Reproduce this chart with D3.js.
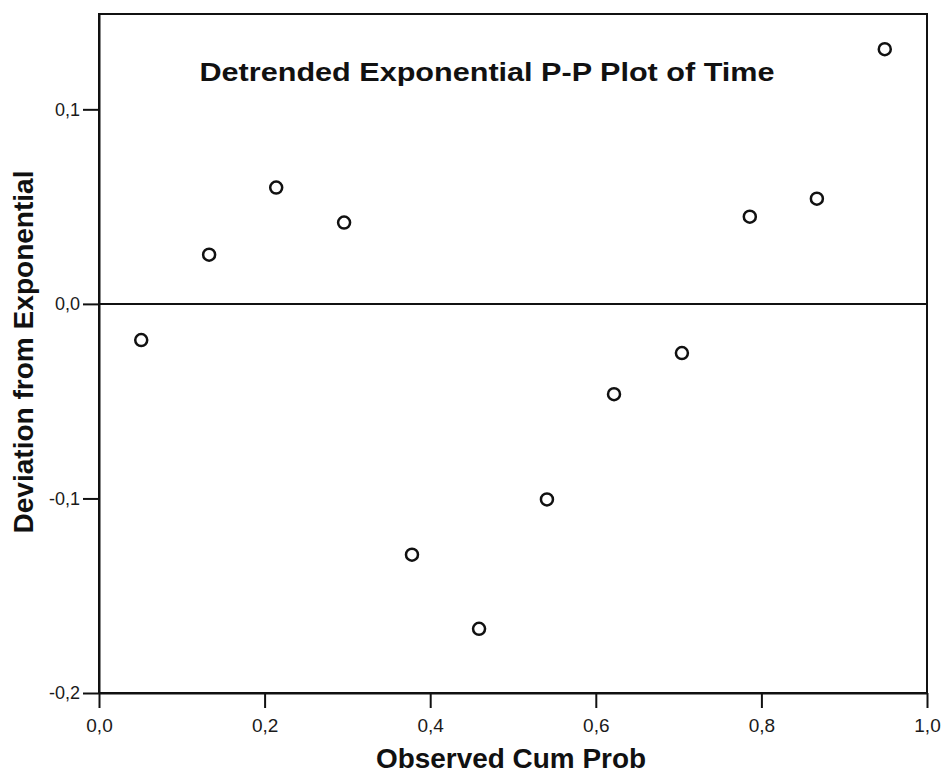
<!DOCTYPE html>
<html>
<head>
<meta charset="utf-8">
<script src="https://cdn.jsdelivr.net/npm/d3@7"></script>
<style>
  body { margin: 0; background: #fff; }
  svg { display: block; font-family: Arial, "Liberation Sans", sans-serif; }
</style>
</head>
<body>
<div class="container"></div>
<script>
"use strict";

var width = 945;
var height = 774;

// Observed cumulative probabilities (Blom positions, n = 12)
var observedCumProb = [0.051, 0.133, 0.214, 0.296, 0.378, 0.459, 0.541, 0.622, 0.704, 0.786, 0.867, 0.949];
// Deviation from exponential
var deviation = [-0.0186, 0.0253, 0.0598, 0.0418, -0.1289, -0.167, -0.1005, -0.0464, -0.0253, 0.0448, 0.0541, 0.1309];

var xTicks = [0, 0.2, 0.4, 0.6, 0.8, 1.0];
var yTicks = [-0.2, -0.1, 0, 0.1];

var margin = {top: 14, right: 18, bottom: 81, left: 99};
var font = "Arial, 'Liberation Sans', sans-serif";

var x = d3.scaleLinear()
    .domain([0, 1])
    .range([margin.left, width - margin.right]);

var y = d3.scaleLinear()
    .domain([-0.2, 0.149])
    .range([height - margin.bottom, margin.top]);

// Decimal comma, as in the original
var fmt = function(d) { return d3.format(".1f")(d).replace(".", ",").replace("−", "-"); };

var svg = d3.select(".container").append("svg")
    .attr("width", width)
    .attr("height", height);

// Frame around the plot area
svg.append("rect")
    .attr("x", x(0))
    .attr("y", y(0.149))
    .attr("width", x(1) - x(0))
    .attr("height", y(-0.2) - y(0.149))
    .attr("fill", "none")
    .attr("stroke", "#111")
    .attr("stroke-width", 2);

// Reference line at zero
svg.append("line")
    .attr("x1", x(0))
    .attr("x2", x(1))
    .attr("y1", y(0))
    .attr("y2", y(0))
    .attr("stroke", "#111")
    .attr("stroke-width", 2);

// Axes
var xAxis = svg.append("g")
    .attr("transform", "translate(0," + y(-0.2) + ")")
    .call(d3.axisBottom(x).tickValues(xTicks).tickFormat(fmt)
        .tickSize(15).tickSizeOuter(0).tickPadding(11));

var yAxis = svg.append("g")
    .attr("transform", "translate(" + x(0) + ",0)")
    .call(d3.axisLeft(y).tickValues(yTicks).tickFormat(fmt)
        .tickSize(16).tickSizeOuter(0).tickPadding(3));

[xAxis, yAxis].forEach(function(g) {
    g.attr("font-family", font);
    g.select(".domain").attr("stroke", "#111").attr("stroke-width", 2);
    g.selectAll(".tick line").attr("stroke", "#111").attr("stroke-width", 2);
    g.selectAll(".tick text").attr("fill", "#1a1a1a");
});
xAxis.selectAll(".tick text").attr("font-size", 19);
yAxis.selectAll(".tick text").attr("font-size", 18);

// Points
svg.append("g")
    .selectAll("circle")
    .data(observedCumProb)
    .enter().append("circle")
    .attr("cx", function(d) { return x(d); })
    .attr("cy", function(d, i) { return y(deviation[i]); })
    .attr("r", 6)
    .attr("fill", "none")
    .attr("stroke", "#111")
    .attr("stroke-width", 2.5);

// Title
svg.append("text")
    .attr("x", 487)
    .attr("y", 81)
    .attr("text-anchor", "middle")
    .attr("font-size", 26)
    .attr("font-weight", "bold")
    .attr("fill", "#111")
    .attr("textLength", 575)
    .attr("lengthAdjust", "spacingAndGlyphs")
    .text("Detrended Exponential P-P Plot of Time");

// Axis labels
svg.append("text")
    .attr("x", 511)
    .attr("y", 768)
    .attr("text-anchor", "middle")
    .attr("font-size", 27)
    .attr("font-weight", "bold")
    .attr("fill", "#111")
    .attr("textLength", 270)
    .attr("lengthAdjust", "spacingAndGlyphs")
    .text("Observed Cum Prob");

svg.append("text")
    .attr("transform", "translate(33,352) rotate(-90)")
    .attr("text-anchor", "middle")
    .attr("font-size", 27)
    .attr("font-weight", "bold")
    .attr("fill", "#111")
    .attr("textLength", 363)
    .attr("lengthAdjust", "spacingAndGlyphs")
    .text("Deviation from Exponential");
</script>
</body>
</html>
